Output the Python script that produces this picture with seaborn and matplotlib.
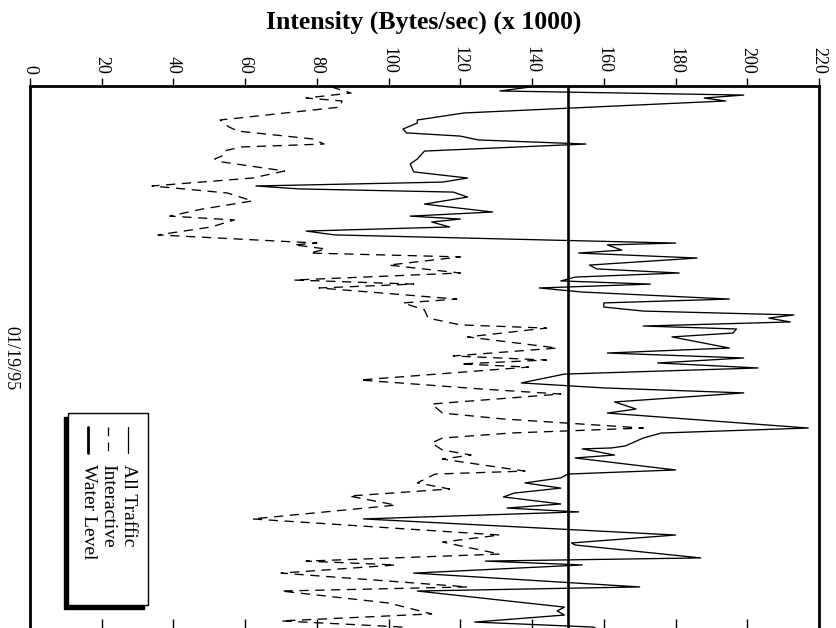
import matplotlib
matplotlib.use("Agg")
import matplotlib.pyplot as plt
import seaborn as sns
import pandas as pd
from matplotlib.patches import Rectangle
from matplotlib.lines import Line2D

# ---------------- data ----------------
# time in hours (axis runs downward), intensity in Bytes/sec x 1000
all_t = [0.00, 0.22, 0.40, 0.53, 0.66, 1.19, 1.50, 1.63, 1.90, 2.07, 2.21, 2.38, 2.56,
         2.87, 3.22, 3.44, 3.79, 4.06, 4.24, 4.41, 4.54, 4.68, 4.90, 5.21, 5.56, 5.74,
         5.87, 6.00, 6.22, 6.40, 6.57, 6.93, 7.01, 7.24, 7.37, 7.59, 7.90, 8.07, 8.25,
         8.43, 8.60, 8.74, 8.91, 9.09, 9.40, 9.57, 9.75, 9.93, 10.10, 10.24, 10.41,
         10.59, 10.72, 10.90, 11.07, 11.56, 11.78, 12.00, 12.22, 12.44, 12.71, 13.10,
         13.32, 13.54, 13.94, 14.25, 14.43, 15.09, 15.31, 15.53, 15.88, 15.97, 16.01,
         16.28, 16.41, 16.94, 17.12, 17.29, 17.51, 17.74, 17.96, 18.13, 18.44, 18.62,
         18.79, 19.10, 19.81, 20.16, 20.25, 20.82, 20.96, 21.13, 21.49, 22.10, 22.28,
         22.99, 23.16, 23.34, 23.65, 23.87, 24.09]
all_v = [141.7, 131, 199, 188, 194, 121, 108, 108, 104, 105, 120, 125, 155,
         110, 108, 106, 107, 122, 115, 63, 75, 118, 122, 110, 129, 106,
         120, 112, 117, 77, 85, 180, 161, 165, 153, 186, 156, 158, 181,
         152, 148, 173, 142, 154, 195, 160, 160, 171, 213, 206, 212,
         171, 197, 196, 179, 195, 161, 199, 175, 203, 149, 137,
         160, 199, 163, 169, 161, 217, 176, 171, 166, 162, 154,
         163, 152, 180, 150, 148, 138, 148, 135, 132, 148, 133,
         153, 93, 180, 151, 152, 187, 127, 154, 107, 170, 108,
         149, 147, 149, 124, 157, 160]

int_t = [0.04, 0.31, 0.53, 0.66, 0.93, 1.50, 1.81, 1.99, 2.34, 2.56, 2.69, 2.87, 3.09,
         3.22, 3.35, 3.75, 4.06, 4.41, 4.72, 5.07, 5.43, 5.74, 5.91, 6.22, 6.57, 6.93,
         7.01, 7.19, 7.37, 7.54, 7.90, 8.25, 8.56, 8.74, 8.91, 9.40, 9.57, 9.88, 10.24,
         10.54, 10.68, 11.07, 11.56, 11.91, 12.09, 12.26, 12.40, 12.97, 13.37, 13.59,
         14.03, 14.43, 14.69, 15.09, 15.31, 15.53, 15.75, 16.06, 16.28, 16.46, 16.99,
         17.12, 17.51, 17.78, 18.09, 18.49, 19.10, 19.81, 20.12, 20.65, 20.96, 21.13,
         21.49, 22.10, 22.28, 22.81, 23.29, 23.60, 23.87, 24.09]
int_v = [84, 89.5, 77, 87, 86.5, 53, 55.5, 58, 79, 82, 59, 54, 53.5,
         51.5, 53.5, 71, 62, 34, 55, 62, 48, 39, 57, 50.5, 35.7, 80,
         73.6, 82.5, 78, 120, 100, 120, 73.6, 107, 80.6, 119, 104, 110, 111,
         120, 144, 122, 147, 118, 144, 120, 139, 92, 126, 148,
         112, 115, 132, 171, 134, 115, 112, 115, 123, 115, 138,
         113, 108, 117, 89, 102, 62, 131, 115, 131, 77, 102,
         70, 122, 70, 100, 112, 70, 104, 100]

water_level = 150
x_ticks = [0, 20, 40, 60, 80, 100, 120, 140, 160, 180, 200, 220]
date_pos = 12.0
date_label = "01/19/95"
t_end = 24.0
title = "Intensity (Bytes/sec) (x 1000)"
legend_labels = ["All Traffic", "Interactive", "Water Level"]

# ---------------- style ----------------
sns.set_style("white")
plt.rcParams["font.family"] = ["Liberation Serif", "DejaVu Serif"]
plt.rcParams["text.color"] = "black"
plt.rcParams["axes.labelcolor"] = "black"
plt.rcParams["xtick.color"] = "black"
plt.rcParams["ytick.color"] = "black"

W, H = 836, 628
fig = plt.figure(figsize=(W / 100, H / 100), dpi=100)
ax = fig.add_axes([30 / W, (H - 630) / H, 789 / W, (630 - 86) / H])

df_all = pd.DataFrame({"t": all_t, "v": all_v})
df_int = pd.DataFrame({"t": int_t, "v": int_v})

sns.lineplot(data=df_all, x="v", y="t", sort=False, estimator=None, orient="y",
             color="black", lw=0.95, ax=ax, legend=False)
sns.lineplot(data=df_int, x="v", y="t", sort=False, estimator=None, orient="y",
             color="black", lw=0.95, ax=ax, legend=False, linestyle=(0, (7, 5)))
ax.axvline(water_level, color="black", lw=1.9)

ax.set_xlim(0, 220)
ax.set_ylim(t_end, 0)
ax.set_xlabel("")
ax.set_ylabel("")

for s in ax.spines.values():
    s.set_linewidth(2.0)
    s.set_color("black")

ax.set_xticks(x_ticks)
ax.set_xticklabels([str(v) for v in x_ticks])
ax.tick_params(axis="x", top=True, bottom=False, labeltop=True, labelbottom=False,
               direction="out", length=6, width=1.0, pad=3, labelsize=13,
               labelrotation=270, colors="black")

sec = ax.secondary_xaxis("bottom")
sec.set_xticks(x_ticks[1:-1])
sec.tick_params(axis="x", direction="in", length=8, width=1.0, labelbottom=False,
                colors="black")

ax.set_yticks([date_pos])
ax.set_yticklabels([date_label])
ax.tick_params(axis="y", left=True, right=False, length=0, pad=8, labelsize=13,
               labelrotation=270, colors="black")
for lab in ax.get_yticklabels():
    lab.set_va("center")

fig.text(424 / W, 1 - 22 / H, title, fontsize=18.5, fontweight="bold",
         ha="center", va="center", color="black")

# ---------------- legend (rotated, drawn by hand) ----------------
def fx(px):
    return px / W

def fy(py):
    return 1 - py / H

shadow = Rectangle((fx(64), fy(609)), fx(80), 192 / H, transform=fig.transFigure,
                   facecolor="black", edgecolor="black", zorder=5)
box = Rectangle((fx(68), fy(605)), fx(80), 192 / H, transform=fig.transFigure,
                facecolor="white", edgecolor="black", lw=1.0, zorder=6)
fig.patches.extend([shadow, box])

styles = [dict(lw=0.9, ls="-"), dict(lw=0.9, ls=(0, (7, 5))), dict(lw=2.0, ls="-")]
xs = [128, 108, 88]
for xp, st, lab in zip(xs, styles, legend_labels):
    fig.lines.append(Line2D([fx(xp), fx(xp)], [fy(427), fy(453)], transform=fig.transFigure,
                            color="black", zorder=7, **st))
    fig.text(fx(xp), fy(464), lab, rotation=270, fontsize=14, ha="center", va="top",
             zorder=7, color="black")

fig.savefig("out.png", dpi=100)
